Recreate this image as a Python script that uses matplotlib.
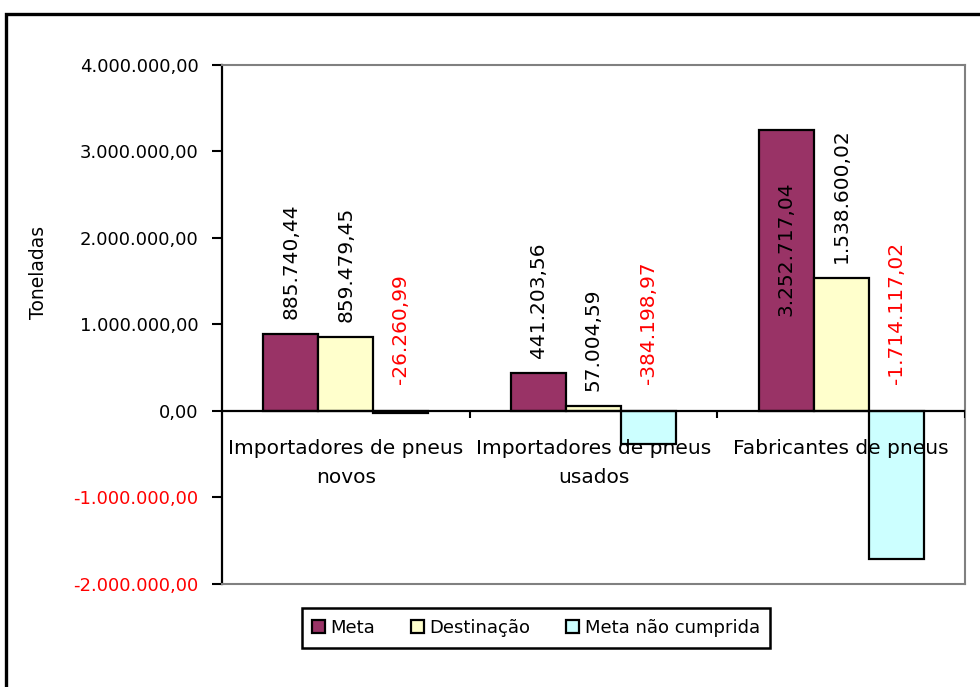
import matplotlib
matplotlib.use("Agg")
import matplotlib.pyplot as plt
from matplotlib.patches import Rectangle
from matplotlib.ticker import FixedLocator

categories = ["Importadores de pneus\nnovos",
              "Importadores de pneus\nusados",
              "Fabricantes de pneus"]
series_names = ["Meta", "Destinação", "Meta não cumprida"]
meta = [885740.44, 441203.56, 3252717.04]
destinacao = [859479.45, 57004.59, 1538600.02]
meta_nao_cumprida = [-26260.99, -384198.97, -1714117.02]
y_ticks = [-2000000, -1000000, 0, 1000000, 2000000, 3000000, 4000000]
y_label = "Toneladas"

colors = ["#993366", "#FFFFCC", "#CCFFFF"]


def br_format(v):
    s = f"{abs(v):,.2f}".replace(",", "X").replace(".", ",").replace("X", ".")
    return ("-" if v < 0 else "") + s


fig = plt.figure(figsize=(9.8, 6.87), dpi=100)
plt.rcParams["font.family"] = ["DejaVu Sans"]
ax = fig.add_axes([222 / 980, 1 - 584 / 687, (965 - 222) / 980, (584 - 65) / 687])

n = len(categories)
width = 0.222
series = [meta, destinacao, meta_nao_cumprida]
ymin, ymax = y_ticks[0], y_ticks[-1]
label_fs = 14.5

for i, (vals, col, name) in enumerate(zip(series, colors, series_names)):
    xs = [k + (i - 1) * width for k in range(n)]
    ax.bar(xs, vals, width=width, color=col, edgecolor="black",
           linewidth=1.6, label=name, zorder=2)
    for x, v in zip(xs, vals):
        txt = br_format(v)
        if v < 0:
            ax.annotate(txt, (x, 0), xytext=(0, 27), textcoords="offset pixels",
                        rotation=90, ha="center", va="bottom", color="red",
                        fontsize=label_fs, zorder=3)
        elif v > 0.6 * ymax:
            ax.annotate(txt, (x, v), xytext=(0, -52), textcoords="offset pixels",
                        rotation=90, ha="center", va="top", color="black",
                        fontsize=label_fs, zorder=3)
        else:
            ax.annotate(txt, (x, v), xytext=(0, 15), textcoords="offset pixels",
                        rotation=90, ha="center", va="bottom", color="black",
                        fontsize=label_fs, zorder=3)

# zero baseline and category separators
ax.axhline(0, color="black", linewidth=1.6, zorder=4)
for b in range(1, n + 1):
    ax.vlines(b - 0.5, -80000, 0, color="black", linewidth=1.5, zorder=4)

for k, c in enumerate(categories):
    ax.annotate(c, (k, 0), xytext=(0, -28), textcoords="offset pixels",
                ha="center", va="top", fontsize=14.5, linespacing=1.7,
                zorder=3)

ax.set_xlim(-0.5, n - 0.5)
ax.set_ylim(ymin, ymax)
ax.yaxis.set_major_locator(FixedLocator(y_ticks))
ax.set_yticklabels([br_format(t) for t in y_ticks], fontsize=13)
for lbl, t in zip(ax.get_yticklabels(), y_ticks):
    lbl.set_color("red" if t < 0 else "black")
ax.tick_params(axis="y", length=7, width=1.5, pad=10, direction="out")
ax.set_xticks([])

for s in ["top", "right", "bottom"]:
    ax.spines[s].set_color("#808080")
    ax.spines[s].set_linewidth(1.5)
ax.spines["left"].set_linewidth(1.6)

fig.text(38 / 980, 1 - 272 / 687, y_label, rotation=90, ha="center",
         va="center", fontsize=13.5)

leg = ax.legend(loc="center", bbox_to_anchor=(536 / 980, 1 - 628 / 687),
                bbox_transform=fig.transFigure, ncol=3, frameon=True,
                fancybox=False, edgecolor="black", fontsize=13,
                handlelength=0.7, handleheight=0.7, handletextpad=0.3,
                columnspacing=2.0, borderpad=0.6, borderaxespad=0)
leg.get_frame().set_linewidth(1.8)
leg.get_frame().set_alpha(1)

# outer chart border
fig.patches.append(Rectangle((6 / 980, -0.2), 1.1, 1.2 - 14 / 687,
                             transform=fig.transFigure, fill=False,
                             edgecolor="black", linewidth=2.4))

fig.savefig("out.png", dpi=100)
